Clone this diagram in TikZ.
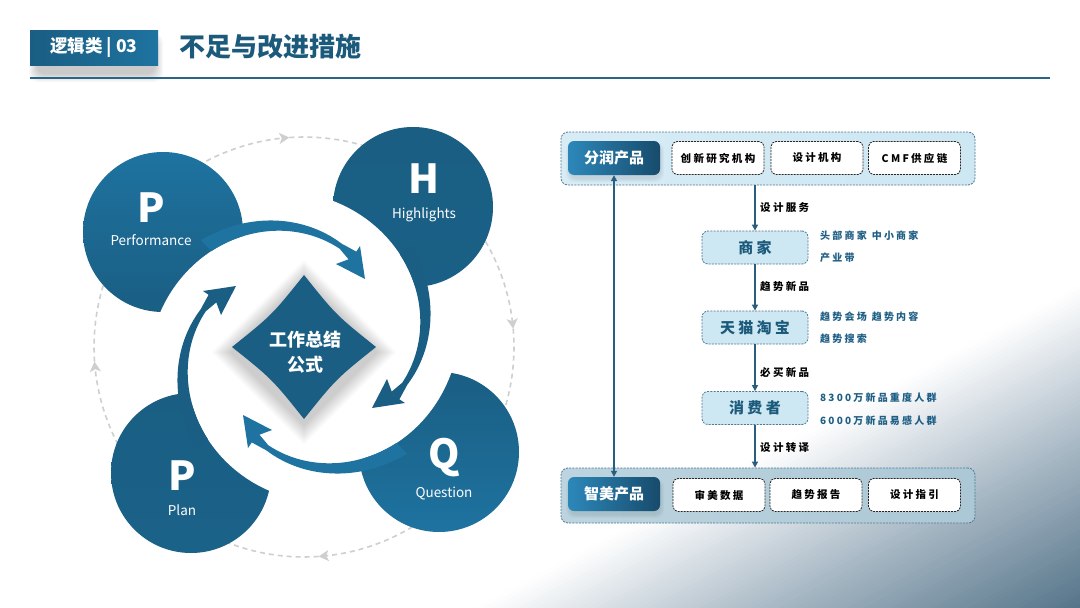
\documentclass[tikz,border=0pt]{standalone}
\usepackage{fontspec}
\setmainfont{Noto Sans CJK SC}
\newfontfamily\wide{Noto Sans CJK SC}[LetterSpace=22]
\usetikzlibrary{arrows.meta,calc}
\definecolor{navy}{HTML}{1A5E83}
\definecolor{navyL}{HTML}{1E73A0}
\definecolor{titleC}{HTML}{1B5A7B}
\definecolor{lineC}{HTML}{2A6585}
\definecolor{ringC}{HTML}{CFCFCF}
\definecolor{boxL}{HTML}{CDE7F3}
\definecolor{boxB}{HTML}{4E7990}
\definecolor{sideC}{HTML}{1F5F85}
\definecolor{bgD}{HTML}{557489}
\definecolor{bgM}{HTML}{AEBDC9}
\definecolor{arrC}{HTML}{2B5E7E}
\definecolor{darkA}{HTML}{2C88BA}
\definecolor{darkB}{HTML}{174B6C}
\newcommand\softshadow[6]{%
  \foreach \s in {1,...,#6}{%
    \fill[black,opacity=0.022,rounded corners=8]
      ({#1-#3/2-\s},{#2-#4/2-\s+#5}) rectangle ({#1+#3/2+\s},{#2+#4/2+\s+#5});}}
\begin{document}
\begin{tikzpicture}[x=1pt,y=-1pt,
  ring/.style={draw=ringC,line width=1.6,dash pattern=on 5pt off 4pt,-{Stealth[length=10pt,width=11pt,inset=2.5pt]}},
  bigc/.style={circle,inner sep=0,minimum size=160,draw=none},
  bigl/.style={font=\bfseries\fontsize{40}{40}\selectfont,text=white,anchor=base,inner sep=0},
  smalll/.style={font=\fontsize{13.5}{14}\selectfont,text=white,anchor=base,inner sep=0},
  container/.style={draw=boxB,dash pattern=on 2pt off 1.2pt,line width=0.8,rounded corners=7,inner sep=0,minimum width=414},
  darkbox/.style={left color=darkA,right color=darkB,rounded corners=6,inner sep=0,minimum width=92,minimum height=34,text=white,font=\bfseries\fontsize{15}{16}\selectfont},
  whitebox/.style={fill=white,draw=black!85,dash pattern=on 2pt off 1pt,line width=0.8,rounded corners=5,inner sep=0,minimum width=92,minimum height=33,font=\wide\bfseries\fontsize{10.5}{12}\selectfont},
  midbox/.style={fill=boxL,draw=boxB,dash pattern=on 2pt off 1.2pt,line width=0.8,rounded corners=6,inner sep=0,minimum width=106,minimum height=33,text=titleC,font=\wide\bfseries\fontsize{15}{16}\selectfont},
  flow/.style={draw=arrC,line width=1.2,-{Triangle[length=6pt,width=6pt]}},
  flowb/.style={draw=arrC,line width=1.2,{Triangle[length=6pt,width=6pt]}-{Triangle[length=6pt,width=6pt]}},
  lab/.style={font=\wide\bfseries\fontsize{10.5}{12}\selectfont,text=black,anchor=west,inner sep=0},
  side/.style={font=\wide\bfseries\fontsize{10}{12}\selectfont,text=sideC,anchor=west,inner sep=0}
]
\useasboundingbox (0,0) rectangle (1080,608);
\fill[white] (0,0) rectangle (1080,608);
% background gradient
\begin{scope}
\clip (0,0) rectangle (1080,608);
\begin{scope}[shift={(1080,608)},rotate=-61.9]
\foreach \i in {0,...,69}{
  \pgfmathsetmacro{\t}{(\i+0.5)/70}
  \pgfmathsetmacro{\xa}{-285+\i*(285/70)}
  \pgfmathsetmacro{\xb}{-285+(\i+1)*(285/70)+0.8}
  \pgfmathtruncatemacro{\pa}{min(100,\t*222.2)}
  \pgfmathtruncatemacro{\pb}{max(0,(\t-0.45)*181.8)}
  \ifnum\pb>0 \def\col{bgD!\pb!bgM}\else\def\col{bgM!\pa!white}\fi
  \fill[color=\col] (\xa,-900) rectangle (\xb,900);
}
\end{scope}
\end{scope}
% title
\softshadow{96}{52}{116}{30}{6}{9}
\node[left color=navy,right color=navyL,minimum width=128,minimum height=35,inner sep=0,text=white,
  font=\bfseries\fontsize{17.5}{18}\selectfont] (tb) at (94,47.5) {逻辑类 | 03};
\node[anchor=west,inner sep=0,text=titleC,font=\bfseries\fontsize{26}{26}\selectfont] (tt) at (179,47) {不足与改进措施};
\draw[lineC,line width=1.1] (30,78) -- (1050,78);
% dashed ring
\begin{scope}[shift={(304,347)}]
\foreach \a/\b in {-184/-94,-94/-5,-5/86,86/176}{
  \draw[ring] plot[domain=\a:\b,samples=50] (\x:210);
}
\end{scope}
% big circles
\node[bigc,top color=navyL,bottom color=navy] (cP) at (163,232) {};
\node[bigc,top color=navy,bottom color=navy!90!navyL] (cH) at (413,207) {};
\node[bigc,top color=navy,bottom color=navyL] (cQ) at (439,452) {};
\node[bigc,top color=navy,bottom color=navy!80!navyL] (cL) at (191,473) {};
% white core
\fill[white] (304,347) circle (126);
\foreach \k in {0,1,2,3}{
\begin{scope}[shift={(304,347)},rotate=-90*\k]
\fill[white] (0,0) -- plot[domain=-178:-95,samples=40] (\x:{118-0.45*(\x+100)}) -- cycle;
\end{scope}}
% diamond with soft shadow
\begin{scope}[shift={(304,352)}]
\foreach \s in {2,4,...,20}{
  \fill[black,opacity=0.018] (0,{-72-\s}) -- ({72+\s},0) -- (0,{72+\s}) -- ({-72-\s},0) -- cycle;}
\end{scope}
\begin{scope}[shift={(304,347)}]
\fill[navy]
  (0,-72) .. controls (32,-32) .. (72,0) .. controls (32,32) .. (0,72) .. controls (-32,32) .. (-72,0) .. controls (-32,-32) .. (0,-72) -- cycle;
\end{scope}
\node[text=white,align=center,inner sep=0,font=\bfseries\fontsize{18}{25}\selectfont] (dtext) at (305,352) {工作总结\\公式};
% curved arrows
\foreach \k/\c in {0/navyL,1/navy,2/navyL,3/navy}{
\begin{scope}[shift={(304,347)},rotate=-90*\k]
\fill[fill=\c] plot[domain=-134:-70,samples=40] (\x:{128-0.6*(\x+100)}) -- (53,-95) -- (46,-86) -- plot[domain=-70:-134,samples=40] (\x:{118-0.45*(\x+100)}) -- cycle;
\fill[fill=\c] (61,-68) -- (56,-101) -- (48,-89) -- (32,-83) -- cycle;
\end{scope}}
% circle texts
\node[bigl] (tP) at (151,222) {P};
\node[smalll] (tPs) at (151,245) {Performance};
\node[bigl] (tH) at (424,193) {H};
\node[smalll] (tHs) at (424,218) {Highlights};
\node[bigl] (tQ) at (444,468) {Q};
\node[smalll] (tQs) at (444,497) {Question};
\node[bigl] (tL) at (182,490) {P};
\node[smalll] (tLs) at (182,515) {Plan};
% right flow chart
\node[container,minimum height=53,left color=boxL!80!white,right color=boxL] (topc) at (768,158.5) {};
\node[container,minimum height=55,left color=boxL!92!black,right color=boxL!72!bgD] (botc) at (768,495.5) {};
\softshadow{615}{160}{90}{32}{2}{4}
\softshadow{615}{496}{90}{32}{2}{4}
\node[darkbox] (fr) at (614,158) {分润产品};
\node[whitebox] (b1) at (718,158) {创新研究机构};
\node[whitebox] (b2) at (817,158) {设计机构};
\node[whitebox] (b3) at (914.5,158) {CMF供应链};
\node[darkbox] (zm) at (614,494) {智美产品};
\node[whitebox] (c1) at (719,495) {审美数据};
\node[whitebox] (c2) at (816,495) {趋势报告};
\node[whitebox] (c3) at (914.5,495) {设计指引};
\node[midbox] (sj) at (755,247.5) {商家};
\node[midbox] (tm) at (755,327.5) {天猫淘宝};
\node[midbox] (xf) at (755,408) {消费者};
\draw[flow] (topc.south -| sj.north) -- (sj.north);
\draw[flow] (sj.south) -- (tm.north);
\draw[flow] (tm.south) -- (xf.north);
\draw[flow] (xf.south) -- (botc.north -| xf.south);
\draw[flowb] (fr.south) -- (zm.north);
\node[lab] (l1) at (760,208) {设计服务};
\node[lab] (l2) at (760,287) {趋势新品};
\node[lab] (l3) at (760,372) {必买新品};
\node[lab] (l4) at (760,448) {设计转译};
\node[side] (s1) at (820,236) {头部商家\hspace{5pt}中小商家};
\node[side] (s2) at (820,258) {产业带};
\node[side] (s3) at (820,317) {趋势会场\hspace{5pt}趋势内容};
\node[side] (s4) at (820,339) {趋势搜索};
\node[side] (s5) at (820,398) {8300万新品重度人群};
\node[side] (s6) at (820,421) {6000万新品易感人群};
\end{tikzpicture}
\end{document}
